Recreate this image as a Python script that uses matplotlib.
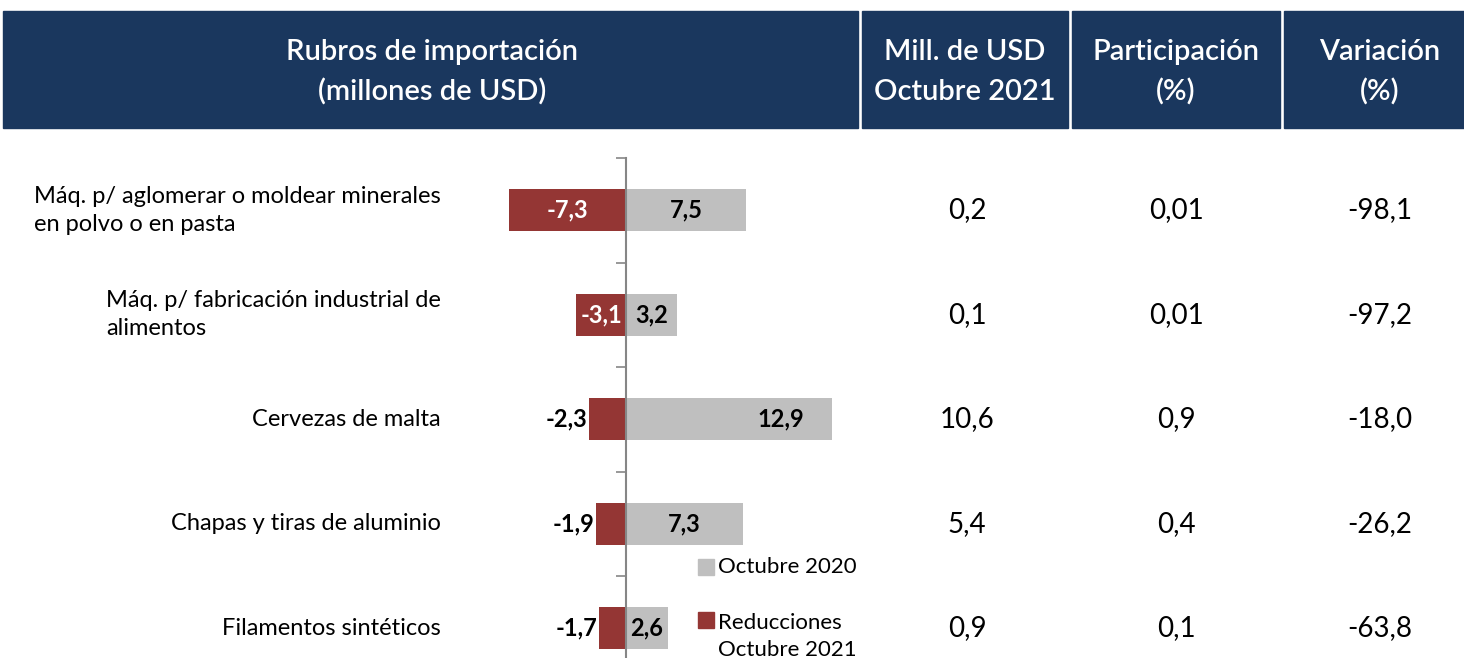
import matplotlib
matplotlib.use("Agg")
import matplotlib.pyplot as plt
import matplotlib.transforms as mtransforms
from matplotlib.patches import Rectangle

plt.rcParams['font.family'] = ['Lato', 'DejaVu Sans']

# data
rubros = [
    "Máq. p/ aglomerar o moldear minerales\nen polvo o en pasta",
    "Máq. p/ fabricación industrial de\nalimentos",
    "Cervezas de malta",
    "Chapas y tiras de aluminio",
    "Filamentos sintéticos",
]
octubre_2020 = [7.5, 3.2, 12.9, 7.3, 2.6]
reducciones = [-7.3, -3.1, -2.3, -1.9, -1.7]
mill_usd_oct2021 = ["0,2", "0,1", "10,6", "5,4", "0,9"]
participacion = ["0,01", "0,01", "0,9", "0,4", "0,1"]
variacion = ["-98,1", "-97,2", "-18,0", "-26,2", "-63,8"]

headers = ["Rubros de importación\n(millones de USD)",
           "Mill. de USD\nOctubre 2021",
           "Participación\n(%)",
           "Variación\n(%)"]

NAVY = "#1A375E"
RED = "#943634"
GRAY = "#BFBFBF"

W, H = 1464, 658
fig = plt.figure(figsize=(W / 100, H / 100), dpi=100)


def fx(px):
    return px / W


def fy(py):
    return 1 - py / H


# header band
cols = [(3, 858), (862, 1068), (1072, 1280), (1284, 1470)]
for (x0, x1), txt in zip(cols, headers):
    fig.patches.append(Rectangle((fx(x0), fy(128)), fx(x1 - x0), (128 - 11) / H,
                                 transform=fig.transFigure, color=NAVY, zorder=0))
cx = [432, 965, 1176, 1380]
for c, txt in zip(cx, headers):
    fig.text(fx(c), fy(72), txt, color="white", fontsize=21, fontweight="semibold",
             ha="center", va="center", linespacing=1.62)

# bar axes: axis line at x=626 px, 16 px per unit
x_left, x_right = 480, 860
top, row_h = 158, 104.5
bottom = top + row_h * len(rubros)
ax = fig.add_axes([fx(x_left), fy(bottom), fx(x_right - x_left), (bottom - top) / H])
ax.set_xlim((x_left - 626) / 16, (x_right - 626) / 16)
ax.set_ylim(len(rubros) - 0.5, -0.5)
ax.patch.set_alpha(0)

y = list(range(len(rubros)))
ax.barh(y, octubre_2020, height=0.4, color=GRAY, zorder=2)
ax.barh(y, reducciones, height=0.4, color=RED, zorder=2)

for spine in ["top", "right", "bottom"]:
    ax.spines[spine].set_visible(False)
ax.spines["left"].set_position(("data", 0))
ax.spines["left"].set_color("#868686")
ax.spines["left"].set_linewidth(1.5)
ax.spines["left"].set_zorder(3)
ax.set_xticks([])
ax.set_yticks([i - 0.5 for i in range(len(rubros) + 1)])
ax.set_yticklabels([])
ax.tick_params(axis="y", direction="out", length=7, width=1.2, color="#868686")

# bar labels
for i, (g, r) in enumerate(zip(octubre_2020, reducciones)):
    gx = g - 3.2 if g > 10 else g / 2
    ax.text(gx, i, f"{g:.1f}".replace(".", ","), ha="center", va="center",
            fontsize=17, fontweight="bold", color="black", zorder=4)
    if abs(r) > 3:
        ax.text(r / 2, i, f"{r:.1f}".replace(".", ","), ha="center", va="center",
                fontsize=17, fontweight="bold", color="white", zorder=4)
    else:
        ax.text(r - 0.1, i, f"{r:.1f}".replace(".", ","), ha="right", va="center",
                fontsize=17, fontweight="bold", color="black", zorder=4)

# category labels and table columns
blend = mtransforms.blended_transform_factory(fig.transFigure, ax.transData)
for i, name in enumerate(rubros):
    ax.text(fx(441), i, name, transform=blend, ha="right", va="center",
            multialignment="left", fontsize=17, linespacing=1.4, clip_on=False)
    ax.text(fx(967), i, mill_usd_oct2021[i], transform=blend, ha="center",
            va="center", fontsize=20, clip_on=False)
    ax.text(fx(1176), i, participacion[i], transform=blend, ha="center",
            va="center", fontsize=20, clip_on=False)
    ax.text(fx(1380), i, variacion[i], transform=blend, ha="center",
            va="center", fontsize=20, clip_on=False)

# legend
legend_items = [(GRAY, "Octubre 2020", 567), (RED, "Reducciones\nOctubre 2021", 620)]
for color, label, ly in legend_items:
    fig.patches.append(Rectangle((fx(698), fy(ly + 8)), fx(16), 16 / H,
                                 transform=fig.transFigure, color=color))
    if "\n" in label:
        fig.text(fx(718), fy(ly - 7), label, fontsize=16, ha="left", va="top",
                 linespacing=1.45)
    else:
        fig.text(fx(718), fy(ly), label, fontsize=16, ha="left", va="center")

fig.savefig("out.png", dpi=100)
